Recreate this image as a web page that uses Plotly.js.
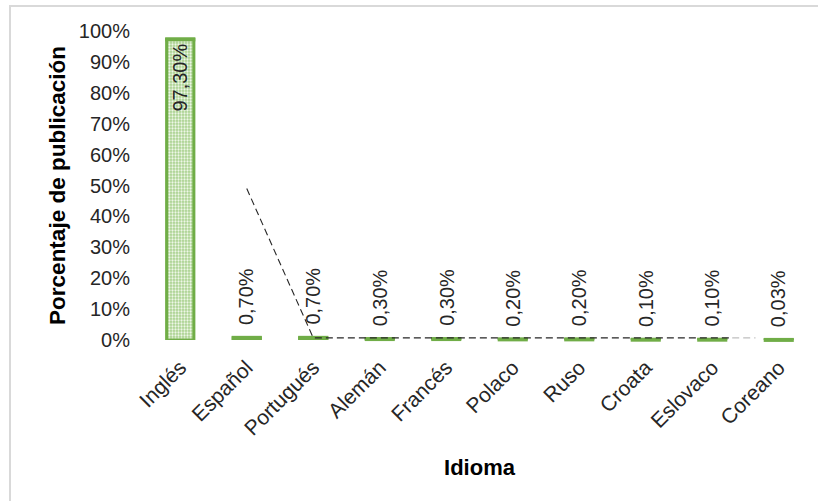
<!DOCTYPE html>
<html>
<head>
<meta charset="utf-8">
<script src="https://cdn.plot.ly/plotly-3.0.1.min.js"></script>
<style>
  html, body { margin: 0; padding: 0; background: #fff; }
  #wrap { position: relative; width: 818px; height: 501px; }
  #chart { width: 818px; height: 501px; }
  #frame { position: absolute; left: 9px; top: 5px; right: 0; bottom: 0;
           border-left: 2px solid #d9d9d9; border-top: 2px solid #d9d9d9; pointer-events: none; }
</style>
</head>
<body>
<div id="wrap">
  <div id="chart"></div>
  <div id="frame"></div>
</div>
<script>
// ---- data ----
var categories = ["Inglés", "Español", "Portugués", "Alemán", "Francés", "Polaco", "Ruso", "Croata", "Eslovaco", "Coreano"];
var percentages = [97.30, 0.70, 0.70, 0.30, 0.30, 0.20, 0.20, 0.10, 0.10, 0.03];
var percentLabels = ["97,30%", "0,70%", "0,70%", "0,30%", "0,30%", "0,20%", "0,20%", "0,10%", "0,10%", "0,03%"];
var yTickValues = [0, 10, 20, 30, 40, 50, 60, 70, 80, 90, 100];
var yTickLabels = ["0%", "10%", "20%", "30%", "40%", "50%", "60%", "70%", "80%", "90%", "100%"];
// dashed leader line (category index, percentage)
var leaderX = [1, 2, 8.3];
var leaderY = [49, 0.7, 0.7];
var leaderFadeX = [8.3, 8.65];
var leaderFadeY = [0.7, 0.7];

var positions = categories.map(function (c, i) { return i; });
var textColor = "#262626";
var fontFam = "Liberation Sans, Arial, sans-serif";
var green = "#70ad47";

var bars = {
  type: "bar",
  x: positions,
  y: percentages,
  width: 0.41,
  marker: {
    color: "#c5e0b4",
    line: { color: green, width: 3 },
    pattern: { shape: ".", fgcolor: "#eef7e8", bgcolor: "#a9d18e", size: 3, solidity: 0.45, fillmode: "replace" }
  },
  hoverinfo: "skip",
  showlegend: false
};

// bar top edge, so very short bars keep a full-width visible outline
var barEdges = {
  type: "scatter",
  mode: "markers",
  x: positions,
  y: percentages,
  marker: {
    symbol: "line-ew-open",
    size: 21.5,
    color: green,
    line: { color: green, width: 4 }
  },
  hoverinfo: "skip",
  showlegend: false,
  cliponaxis: false
};

var leader = {
  type: "scatter",
  mode: "lines",
  x: leaderX,
  y: leaderY,
  line: { color: "#262626", width: 1.1, dash: "7px,4px" },
  hoverinfo: "skip",
  showlegend: false,
  cliponaxis: false
};
var leaderFade = {
  type: "scatter",
  mode: "lines",
  x: leaderFadeX,
  y: leaderFadeY,
  line: { color: "#bfbfbf", width: 1.1, dash: "7px,4px" },
  hoverinfo: "skip",
  showlegend: false,
  cliponaxis: false
};

// data labels: inside the top of tall bars, above short bars
var labelAnnotations = percentages.map(function (v, i) {
  var inside = v > 50;
  return {
    x: positions[i],
    y: v,
    xref: "x",
    yref: "y",
    text: percentLabels[i],
    showarrow: false,
    textangle: -90,
    xanchor: "center",
    yanchor: inside ? "top" : "bottom",
    yshift: inside ? -2 : 11,
    font: { family: fontFam, size: 20, color: textColor }
  };
});

var layout = {
  width: 818,
  height: 501,
  margin: { l: 147, r: 6, t: 31, b: 161 },
  paper_bgcolor: "#ffffff",
  plot_bgcolor: "#ffffff",
  font: { family: fontFam, color: textColor },
  annotations: labelAnnotations,
  xaxis: {
    range: [-0.5, 9.5],
    tickmode: "array",
    tickvals: positions,
    ticktext: categories,
    tickangle: -45,
    tickfont: { size: 21, color: textColor },
    ticks: "outside",
    ticklen: 6,
    tickcolor: "rgba(0,0,0,0)",
    showgrid: false,
    zeroline: false,
    showline: false,
    fixedrange: true,
    title: { text: "Idioma", font: { size: 22, color: "#000000", weight: "bold" }, standoff: 20 }
  },
  yaxis: {
    range: [0, 100],
    tickmode: "array",
    tickvals: yTickValues,
    ticktext: yTickLabels,
    tickfont: { size: 20, color: textColor },
    ticks: "outside",
    ticklen: 12,
    tickcolor: "rgba(0,0,0,0)",
    showgrid: false,
    zeroline: false,
    showline: false,
    fixedrange: true,
    title: { text: "Porcentaje de publicación", font: { size: 22.5, color: "#000000", weight: "bold" }, standoff: 6 }
  }
};

Plotly.newPlot("chart", [bars, barEdges, leader, leaderFade], layout, { staticPlot: true, displayModeBar: false });
</script>
</body>
</html>
